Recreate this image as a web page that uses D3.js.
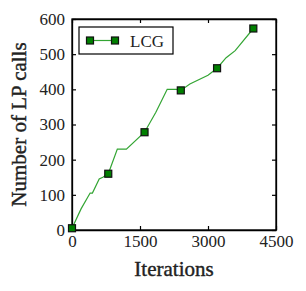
<!DOCTYPE html>
<html>
<head>
<meta charset="utf-8">
<script src="https://cdn.jsdelivr.net/npm/d3@7"></script>
<style>
  body { margin: 0; background: #fff; }
  text { font-family: "Liberation Serif", "DejaVu Serif", serif; fill: #222; }
</style>
</head>
<body>
<svg id="chart" width="306" height="291"></svg>
<script>
// Series data
const iterations = [0, 200, 400, 450, 600, 680, 800, 1000, 1200, 1600, 1850, 2100, 2300, 2400, 2600, 3000, 3200, 3400, 3600, 4000];
const lpCalls    = [5, 60, 105, 105, 145, 150, 160, 230, 230, 278, 335, 400, 400, 397, 415, 440, 460, 490, 510, 573];
const markerIters = [0, 800, 1600, 2400, 3200, 4000];
const markerCalls = [5, 160, 278, 397, 460, 573];
const xTicks = [0, 1500, 3000, 4500];
const yTicks = [0, 100, 200, 300, 400, 500, 600];
const seriesName = "LCG";

const svg = d3.select("#chart");
const margin = { left: 72, right: 30, top: 19, bottom: 61 };
const W = 306, H = 291;

const x = d3.scaleLinear().domain([0, 4500]).range([margin.left, W - margin.right]);
const y = d3.scaleLinear().domain([0, 600]).range([H - margin.bottom, margin.top]);

const lineColor = "#33a533";
const markFill = "#007f00";
const fmt = d3.format("d");

// Axes with inward ticks, mirrored on top/right
const tick = 4;
svg.append("g").attr("transform", `translate(0,${y(0)})`)
    .call(d3.axisBottom(x).tickValues(xTicks).tickFormat(fmt).tickSizeInner(-tick).tickSizeOuter(0).tickPadding(5));
svg.append("g").attr("transform", `translate(0,${y(600)})`)
    .call(d3.axisTop(x).tickValues(xTicks).tickSizeInner(-tick).tickSizeOuter(0).tickFormat(""));
svg.append("g").attr("transform", `translate(${x(0)},0)`)
    .call(d3.axisLeft(y).tickValues(yTicks).tickFormat(fmt).tickSizeInner(-tick).tickSizeOuter(0).tickPadding(7));
svg.append("g").attr("transform", `translate(${x(4500)},0)`)
    .call(d3.axisRight(y).tickValues(yTicks).tickSizeInner(-tick).tickSizeOuter(0).tickFormat(""));

svg.selectAll(".domain").attr("stroke", "#000").attr("stroke-width", 1.3);
svg.selectAll(".tick line").attr("stroke", "#000").attr("stroke-width", 1.2);
svg.selectAll(".tick text").style("font-size", "17px").attr("fill", "#333");

// Frame
svg.append("rect")
    .attr("x", x(0)).attr("y", y(600))
    .attr("width", x(4500) - x(0)).attr("height", y(0) - y(600))
    .attr("fill", "none").attr("stroke", "#000").attr("stroke-width", 1.3);

// Line
const line = d3.line().x((d, i) => x(iterations[i])).y((d, i) => y(lpCalls[i]));
svg.append("path")
    .datum(lpCalls)
    .attr("d", line)
    .attr("fill", "none")
    .attr("stroke", lineColor)
    .attr("stroke-width", 1.2);

// Markers
const ms = 7;
svg.append("g").selectAll("rect")
    .data(markerIters)
    .join("rect")
    .attr("x", (d) => x(d) - ms / 2)
    .attr("y", (d, i) => y(markerCalls[i]) - ms / 2)
    .attr("width", ms).attr("height", ms)
    .attr("fill", markFill)
    .attr("stroke", "#111").attr("stroke-width", 1.2);

// Legend
const lg = svg.append("g");
lg.append("rect").attr("x", 79).attr("y", 27).attr("width", 94).attr("height", 27)
    .attr("fill", "#fff").attr("stroke", "#000").attr("stroke-width", 1.2);
lg.append("line").attr("x1", 90).attr("x2", 115).attr("y1", 40.5).attr("y2", 40.5)
    .attr("stroke", lineColor).attr("stroke-width", 1.2);
[90, 115].forEach(cx => {
    lg.append("rect").attr("x", cx - ms / 2).attr("y", 40.5 - ms / 2)
        .attr("width", ms).attr("height", ms)
        .attr("fill", markFill).attr("stroke", "#111").attr("stroke-width", 1.2);
});
lg.append("text").attr("x", 130).attr("y", 46.5).style("font-size", "17px").text(seriesName);

// Axis titles (slightly heavier, like the original)
svg.append("text")
    .attr("x", (x(0) + x(4500)) / 2).attr("y", 276)
    .attr("text-anchor", "middle")
    .style("font-size", "21px")
    .attr("stroke", "#222").attr("stroke-width", 0.4)
    .text("Iterations");
svg.append("text")
    .attr("transform", `translate(26,${(y(0) + y(600)) / 2}) rotate(-90)`)
    .attr("text-anchor", "middle")
    .style("font-size", "21px")
    .attr("stroke", "#222").attr("stroke-width", 0.4)
    .text("Number of LP calls");
</script>
</body>
</html>
